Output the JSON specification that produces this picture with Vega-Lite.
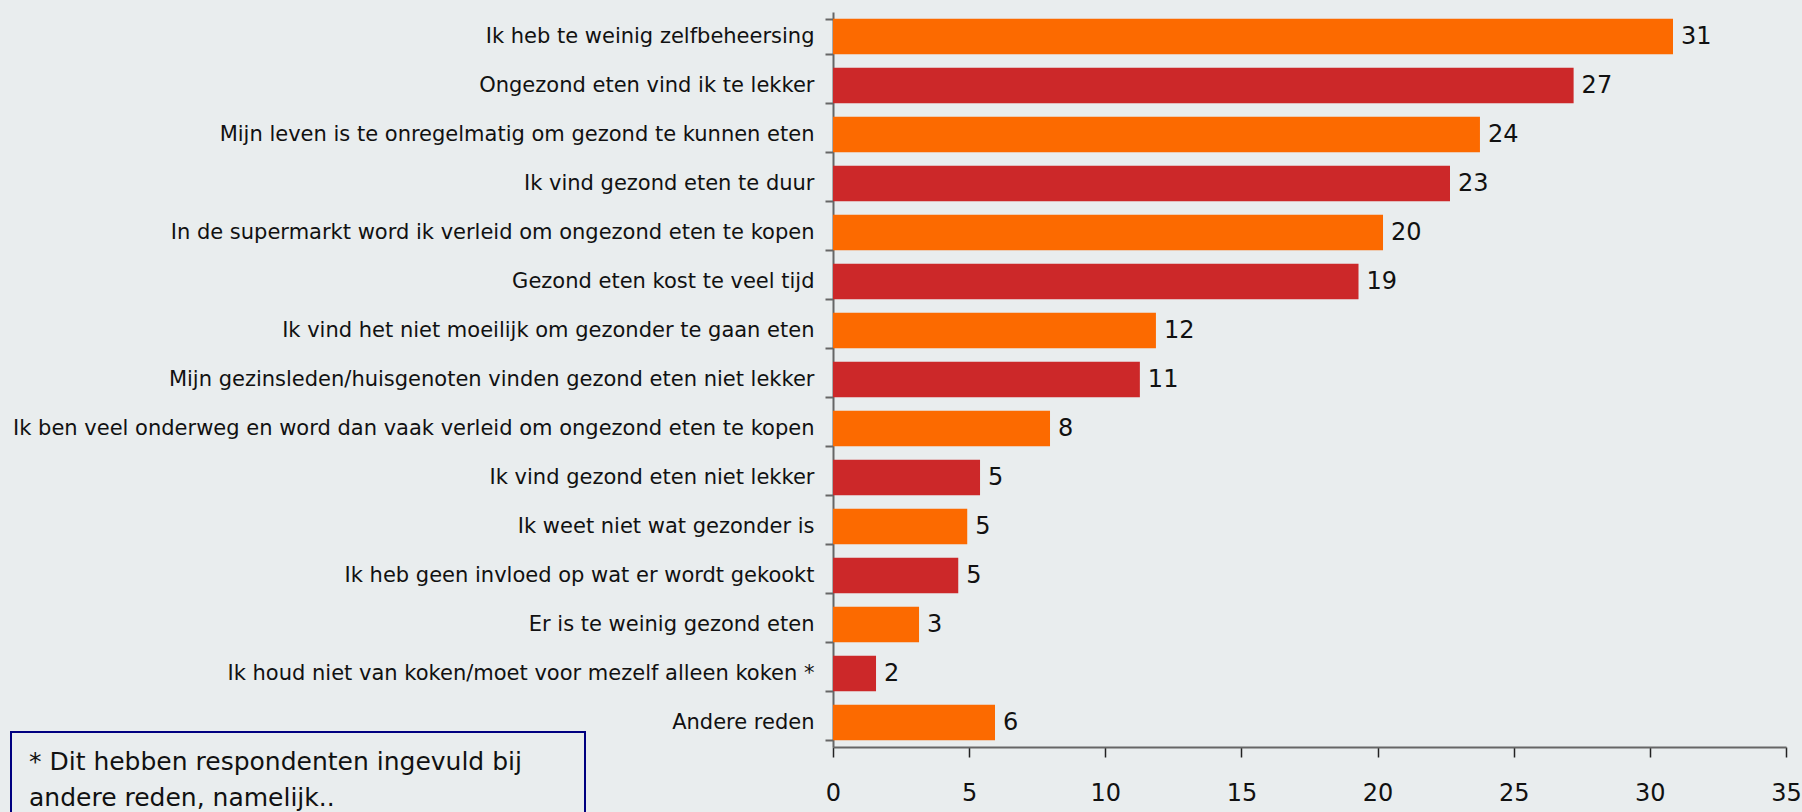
{
  "$schema": "https://vega.github.io/schema/vega-lite/v6.json",
  "autosize": {"type": "none"},
  "width": 953,
  "height": 735,
  "padding": {"left": 833, "top": 12, "right": 16, "bottom": 65},
  "background": "#E9EDEE",
  "data": {
    "values": [
      {"Reden": "Ik heb te weinig zelfbeheersing", "Percentage": 30.85},
      {"Reden": "Ongezond eten vind ik te lekker", "Percentage": 27.2},
      {"Reden": "Mijn leven is te onregelmatig om gezond te kunnen eten", "Percentage": 23.76},
      {"Reden": "Ik vind gezond eten te duur", "Percentage": 22.66},
      {"Reden": "In de supermarkt word ik verleid om ongezond eten te kopen", "Percentage": 20.2},
      {"Reden": "Gezond eten kost te veel tijd", "Percentage": 19.3},
      {"Reden": "Ik vind het niet moeilijk om gezonder te gaan eten", "Percentage": 11.86},
      {"Reden": "Mijn gezinsleden/huisgenoten vinden gezond eten niet lekker", "Percentage": 11.27},
      {"Reden": "Ik ben veel onderweg en word dan vaak verleid om ongezond eten te kopen", "Percentage": 7.97},
      {"Reden": "Ik vind gezond eten niet lekker", "Percentage": 5.4},
      {"Reden": "Ik weet niet wat gezonder is", "Percentage": 4.93},
      {"Reden": "Ik heb geen invloed op wat er wordt gekookt", "Percentage": 4.6},
      {"Reden": "Er is te weinig gezond eten", "Percentage": 3.16},
      {"Reden": "Ik houd niet van koken/moet voor mezelf alleen koken *", "Percentage": 1.58},
      {"Reden": "Andere reden", "Percentage": 5.95}
    ]
  },
  "encoding": {
    "y": {
      "field": "Reden",
      "type": "nominal",
      "sort": null,
      "scale": {"paddingInner": 0.28, "paddingOuter": 0.14},
      "axis": {
        "title": null,
        "tickBand": "extent",
        "tickSize": 8,
        "tickColor": "#666666",
        "tickWidth": 2,
        "domainColor": "#666666",
        "domainWidth": 2,
        "labelFont": "DejaVu Sans",
        "labelFontSize": 21,
        "labelColor": "#111111",
        "labelPadding": 11,
        "labelLimit": 900
      }
    }
  },
  "layer": [
    {
      "mark": {"type": "bar"},
      "encoding": {
        "x": {
          "field": "Percentage",
          "type": "quantitative",
          "scale": {"domain": [0, 35], "nice": false},
          "axis": {
            "title": null,
            "values": [0, 5, 10, 15, 20, 25, 30, 35],
            "grid": false,
            "tickSize": 10,
            "tickColor": "#222222",
            "tickWidth": 1.5,
            "domainColor": "#666666",
            "domainWidth": 2,
            "labelFont": "DejaVu Sans",
            "labelFontSize": 24,
            "labelColor": "#111111",
            "labelPadding": 24,
            "labelFlush": false
          }
        },
        "color": {
          "field": "Reden",
          "type": "nominal",
          "scale": {
            "domain": [
              "Ik heb te weinig zelfbeheersing",
              "Ongezond eten vind ik te lekker",
              "Mijn leven is te onregelmatig om gezond te kunnen eten",
              "Ik vind gezond eten te duur",
              "In de supermarkt word ik verleid om ongezond eten te kopen",
              "Gezond eten kost te veel tijd",
              "Ik vind het niet moeilijk om gezonder te gaan eten",
              "Mijn gezinsleden/huisgenoten vinden gezond eten niet lekker",
              "Ik ben veel onderweg en word dan vaak verleid om ongezond eten te kopen",
              "Ik vind gezond eten niet lekker",
              "Ik weet niet wat gezonder is",
              "Ik heb geen invloed op wat er wordt gekookt",
              "Er is te weinig gezond eten",
              "Ik houd niet van koken/moet voor mezelf alleen koken *",
              "Andere reden"
            ],
            "range": ["#FC6A00", "#CC2829", "#FC6A00", "#CC2829", "#FC6A00", "#CC2829", "#FC6A00", "#CC2829", "#FC6A00", "#CC2829", "#FC6A00", "#CC2829", "#FC6A00", "#CC2829", "#FC6A00"]
          },
          "legend": {
            "orient": "none",
            "legendX": -822,
            "legendY": 720,
            "values": [],
            "title": ["* Dit hebben respondenten ingevuld bij\u2800 \u2800", "andere reden, namelijk.."],
            "titleFont": "DejaVu Sans",
            "titleFontSize": 25,
            "titleFontWeight": "normal",
            "titleColor": "#111111",
            "titleLineHeight": 36,
            "titleLimit": 1000,
            "titleAnchor": "start",
            "strokeColor": "#000080",
            "fillColor": "#E9EDEE",
            "padding": 18,
            "encode": {"legend": {"update": {"strokeWidth": {"value": 2}}}}
          }
        }
      }
    },
    {
      "mark": {"type": "text", "align": "left", "baseline": "middle", "dx": 8, "font": "DejaVu Sans", "fontSize": 24, "color": "#111111"},
      "encoding": {
        "x": {"field": "Percentage", "type": "quantitative"},
        "text": {"field": "Percentage", "type": "quantitative", "format": ".0f"}
      }
    }
  ],
  "config": {"view": {"stroke": null}}
}
